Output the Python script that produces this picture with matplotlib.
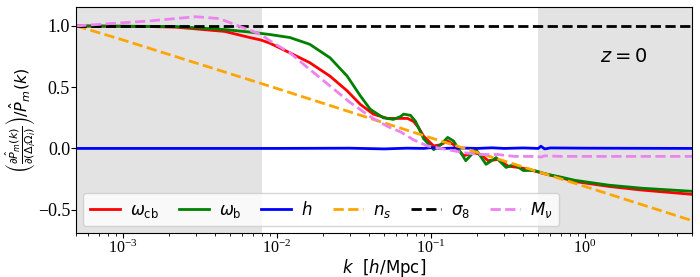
import matplotlib
matplotlib.use("Agg")
import matplotlib.pyplot as plt
import numpy as np

# values: k [h/Mpc] and derivative / P_m
k_cb = [5e-4, 1.5e-3, 2.2e-3, 4.6e-3, 6.7e-3, 7.9e-3, 9.0e-3, 0.0122, 0.0164, 0.0222,
        0.0287, 0.0349, 0.0424, 0.0524, 0.0637, 0.0708, 0.0775, 0.0835, 0.090, 0.1046,
        0.116, 0.129, 0.141, 0.164, 0.191, 0.212, 0.236, 0.274, 0.319, 0.370,
        0.431, 0.523, 0.707, 0.861, 1.435, 2.36, 5.0]
pk_cb = [1.0, 0.995, 0.99, 0.955, 0.905, 0.885, 0.86, 0.78, 0.70, 0.59,
         0.47, 0.36, 0.28, 0.245, 0.245, 0.245, 0.22, 0.17, 0.10, 0.02,
         0.03, 0.06, 0.03, -0.06, -0.035, -0.05, -0.10, -0.09, -0.145, -0.155,
         -0.17, -0.20, -0.24, -0.27, -0.31, -0.34, -0.375]

k_b = [5e-4, 2.2e-3, 4.6e-3, 6.7e-3, 9.0e-3, 0.0122, 0.0164, 0.0222, 0.0287, 0.0349,
       0.0405, 0.0493, 0.0573, 0.0637, 0.0667, 0.074, 0.0798, 0.090, 0.1046, 0.116,
       0.129, 0.141, 0.169, 0.197, 0.229, 0.266, 0.309, 0.349, 0.399, 0.471,
       0.565, 0.707, 0.861, 1.435, 2.36, 5.0]
pk_b = [1.0, 0.995, 0.97, 0.95, 0.93, 0.905, 0.85, 0.74, 0.59, 0.43,
        0.32, 0.25, 0.237, 0.26, 0.28, 0.27, 0.22, 0.08, -0.01, 0.03,
        0.09, 0.06, -0.10, -0.01, -0.13, -0.075, -0.155, -0.13, -0.18, -0.18,
        -0.21, -0.235, -0.26, -0.30, -0.325, -0.35]

k_h = [5e-4, 0.01, 0.03, 0.05, 0.07, 0.09, 0.1, 0.12, 0.15, 0.2,
       0.25, 0.3, 0.4, 0.5, 0.52, 0.55, 0.6, 1.0, 5.0]
pk_h = [0.0, 0.0, 0.002, -0.004, 0.002, 0.0, 0.006, 0.0, 0.004, 0.0,
        0.005, 0.0, 0.004, 0.0, 0.018, -0.004, 0.004, 0.002, 0.0]

k_ns = [5e-4, 1e-3, 1e-2, 0.1, 1.0, 5.0]
pk_ns = [1.0, 0.886, 0.49, 0.087, -0.31, -0.59]

k_s8 = [5e-4, 5.0]
pk_s8 = [1.0, 1.0]

k_nu = [5e-4, 1.48e-3, 2.98e-3, 4.24e-3, 5.65e-3, 7.9e-3, 9.0e-3, 0.0122, 0.0164, 0.0222,
        0.030, 0.0405, 0.0524, 0.0637, 0.0775, 0.0955, 0.129, 0.164, 0.212, 0.274,
        0.349, 0.471, 0.523, 0.55, 0.707, 1.435, 5.0]
pk_nu = [1.0, 1.04, 1.075, 1.06, 1.0, 0.93, 0.88, 0.78, 0.645, 0.51,
         0.375, 0.26, 0.18, 0.135, 0.07, 0.02, -0.01, -0.035, -0.05, -0.05,
         -0.065, -0.065, -0.07, -0.06, -0.065, -0.065, -0.065]

kmin, kmax = 5e-4, 5.0
k_lin, k_nl = 0.008, 0.5

fig = plt.figure(figsize=(7, 2.77), dpi=100)
ax = fig.add_axes([0.109, 0.159, 0.88, 0.816])

ax.axvspan(kmin, k_lin, color='gray', alpha=0.22, lw=0)
ax.axvspan(k_nl, kmax, color='gray', alpha=0.22, lw=0)

ax.plot(k_cb, pk_cb, c='red', lw=2, label=r'$\omega_{\rm cb}$')
ax.plot(k_b, pk_b, c='green', lw=2, label=r'$\omega_{\rm b}$')
ax.plot(k_h, pk_h, c='blue', lw=2, label=r'$h$')
ax.plot(k_ns, pk_ns, c='orange', lw=2, ls='--', label=r'$n_s$')
ax.plot(k_s8, pk_s8, c='black', lw=2, ls='--', label=r'$\sigma_8$')
ax.plot(k_nu, pk_nu, c='violet', lw=2, ls='--', label=r'$M_\nu$')

ax.set_xscale('log')
ax.set_xlim(kmin, kmax)
ax.set_ylim(-0.69, 1.155)
ax.set_yticks([-0.5, 0.0, 0.5, 1.0])
ax.tick_params(axis='x', pad=1)
ax.tick_params(axis='y', pad=1)

ax.text(1.8, 0.75, r'$z=0$', fontsize=14, ha='center', va='center')

ax.set_xlabel(r'$k\ \ [h/{\rm Mpc}]$', fontsize=12, labelpad=0)
ax.set_ylabel(r'$\left(\frac{\partial\hat{P}_m(k)}{\partial(\Delta_i\Omega_i)}\right)/\hat{P}_m(k)$',
              fontsize=11.5, labelpad=0)

for lab in ax.get_xticklabels():
    lab.set_fontfamily('Liberation Serif')
    lab.set_fontsize(11.5)
for lab in ax.get_yticklabels():
    lab.set_fontfamily('Liberation Serif')
    lab.set_fontsize(13)

ax.legend(loc='lower left', ncol=6, fontsize=12, handlelength=1.8,
          handletextpad=0.6, columnspacing=1.2, borderaxespad=0.4)

fig.savefig('out.png', dpi=100)
